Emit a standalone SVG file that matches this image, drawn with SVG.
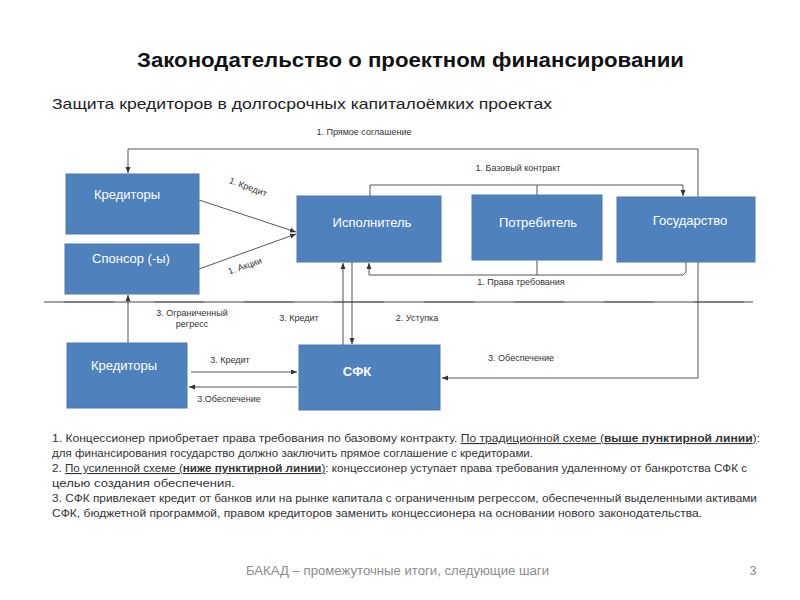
<svg xmlns="http://www.w3.org/2000/svg" width="800" height="600" viewBox="0 0 800 600">
<style>
.box{fill:#4F81BD;stroke:#4A7AB5;stroke-width:1}
.bt{font-family:"Liberation Sans",Arial,sans-serif;font-size:13px;fill:#ffffff;text-anchor:middle}
.ln{fill:none;stroke:#555555;stroke-width:1}
.lb{font-family:"Liberation Sans",Arial,sans-serif;font-size:9px;fill:#333333}
.body{font-family:"Liberation Sans",Arial,sans-serif;font-size:11px;fill:#333333}
.u{text-decoration:underline}
.b{font-weight:bold}
</style>
<defs>
<marker id="ah" markerWidth="6" markerHeight="6" refX="6" refY="3" orient="auto" markerUnits="userSpaceOnUse">
<path d="M0,0.5 L6,3 L0,5.5 z" fill="#333333"/>
</marker>
</defs>
<rect width="800" height="600" fill="#ffffff"/>

<text x="137" y="67" font-family="'Liberation Sans',Arial,sans-serif" font-size="20" font-weight="bold" fill="#111111" textLength="547" lengthAdjust="spacingAndGlyphs">Законодательство о проектном финансировании</text>
<text x="52" y="109" font-family="'Liberation Sans',Arial,sans-serif" font-size="15" fill="#222222" textLength="500" lengthAdjust="spacingAndGlyphs">Защита кредиторов в долгосрочных капиталоёмких проектах</text>

<g id="connectors">
<polyline class="ln" points="698,378 698,149 128,149 128,173" marker-end="url(#ah)"/>
<polyline class="ln" points="698,378 442,378" marker-end="url(#ah)"/>
<polyline class="ln" points="370,196 370,185 683,185 683,196" marker-end="url(#ah)"/>
<line class="ln" x1="537" y1="195" x2="537" y2="185"/>
<polyline class="ln" points="686,262 686,272 683,275 369,275 369,263" marker-end="url(#ah)"/>
<line class="ln" x1="537" y1="260" x2="537" y2="275"/>
<line class="ln" x1="199" y1="200" x2="296" y2="232" marker-end="url(#ah)"/>
<line class="ln" x1="199" y1="269" x2="296" y2="234" marker-end="url(#ah)"/>
<line class="ln" x1="128" y1="343" x2="128" y2="295" marker-end="url(#ah)"/>
<line class="ln" x1="343" y1="345" x2="343" y2="263" marker-end="url(#ah)"/>
<line class="ln" x1="352" y1="262" x2="352" y2="344" marker-end="url(#ah)"/>
<line class="ln" x1="191" y1="372" x2="297" y2="372" marker-end="url(#ah)"/>
<line class="ln" x1="297" y1="387" x2="189" y2="387" marker-end="url(#ah)"/>
<line x1="44" y1="302" x2="753" y2="302" stroke="#444444" stroke-width="1"/>
<line x1="44" y1="302" x2="753" y2="302" stroke="#222222" stroke-width="1.2" stroke-dasharray="50,40" stroke-dashoffset="-20" opacity="0.5"/>
</g>

<g id="labels">
<text class="lb" x="364" y="135" text-anchor="middle">1. Прямое соглашение</text>
<text class="lb" x="518" y="171" text-anchor="middle">1. Базовый контракт</text>
<text class="lb" x="521" y="285" text-anchor="middle">1. Права требования</text>
<text class="lb" x="248" y="190" text-anchor="middle" transform="rotate(20 248 187)">1. Кредит</text>
<text class="lb" x="245" y="269" text-anchor="middle" transform="rotate(-19 245 266)">1. Акции</text>
<text class="lb" x="192" y="316" text-anchor="middle">3. Ограниченный</text>
<text class="lb" x="192" y="327" text-anchor="middle">регресс</text>
<text class="lb" x="299" y="321" text-anchor="middle">3. Кредит</text>
<text class="lb" x="417" y="321" text-anchor="middle">2. Уступка</text>
<text class="lb" x="230" y="363" text-anchor="middle">3. Кредит</text>
<text class="lb" x="229" y="402" text-anchor="middle">3.Обеспечение</text>
<text class="lb" x="521" y="361" text-anchor="middle">3. Обеспечение</text>
</g>

<g id="node-kreditory-top">
<rect class="box" x="66" y="174" width="133" height="60"/>
<text class="bt" x="127" y="199">Кредиторы</text>
</g>
<g id="node-sponsor">
<rect class="box" x="65" y="244" width="134" height="50"/>
<text class="bt" x="131" y="263">Спонсор (-ы)</text>
</g>
<g id="node-ispolnitel">
<rect class="box" x="297" y="196" width="144" height="66"/>
<text class="bt" x="372" y="227">Исполнитель</text>
</g>
<g id="node-potrebitel">
<rect class="box" x="472" y="195" width="130" height="65"/>
<text class="bt" x="538" y="227">Потребитель</text>
</g>
<g id="node-gosudarstvo">
<rect class="box" x="617" y="197" width="138" height="65"/>
<text class="bt" x="690" y="225">Государство</text>
</g>
<g id="node-kreditory-bottom">
<rect class="box" x="67" y="343" width="120" height="65"/>
<text class="bt" x="124" y="370">Кредиторы</text>
</g>
<g id="node-sfk">
<rect class="box" x="299" y="345" width="141" height="65"/>
<text class="bt" x="357" y="376" font-size="11" font-weight="bold">СФК</text>
</g>

<g id="notes">
<text class="body" x="52" y="442" textLength="708" lengthAdjust="spacingAndGlyphs">1. Концессионер приобретает права требования по базовому контракту. <tspan class="u">По традиционной схеме (</tspan><tspan class="u b">выше пунктирной линии</tspan><tspan class="u">)</tspan>:</text>
<text class="body" x="52" y="457" textLength="481" lengthAdjust="spacingAndGlyphs">для финансирования государство должно заключить прямое соглашение с кредиторами.</text>
<text class="body" x="52" y="472" textLength="695" lengthAdjust="spacingAndGlyphs">2. <tspan class="u">По усиленной схеме (</tspan><tspan class="u b">ниже пунктирной линии</tspan><tspan class="u">)</tspan>: концессионер уступает права требования удаленному от банкротства СФК с</text>
<text class="body" x="52" y="487" textLength="183" lengthAdjust="spacingAndGlyphs">целью создания обеспечения.</text>
<text class="body" x="52" y="502" textLength="705" lengthAdjust="spacingAndGlyphs">3. СФК привлекает кредит от банков или на рынке капитала с ограниченным регрессом, обеспеченный выделенными активами</text>
<text class="body" x="52" y="517" textLength="650" lengthAdjust="spacingAndGlyphs">СФК, бюджетной программой, правом кредиторов заменить концессионера на основании нового законодательства.</text>
</g>

<text x="246" y="575" font-family="'Liberation Sans',Arial,sans-serif" font-size="12" fill="#8c8c8c" textLength="303" lengthAdjust="spacingAndGlyphs">БАКАД – промежуточные итоги, следующие шаги</text>
<text x="753" y="575" font-family="'Liberation Sans',Arial,sans-serif" font-size="12" fill="#8c8c8c" text-anchor="middle">3</text>
</svg>
